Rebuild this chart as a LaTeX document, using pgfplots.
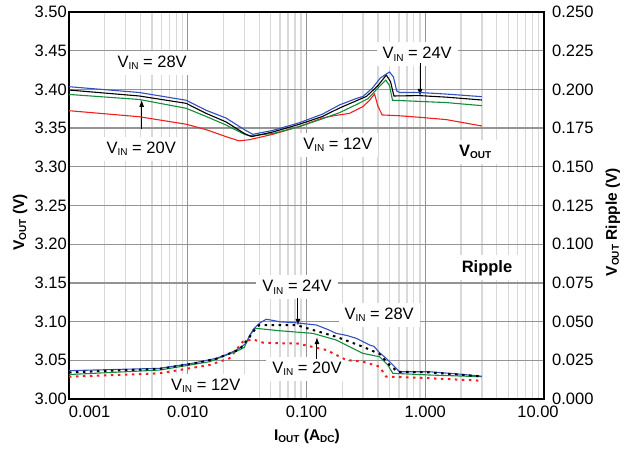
\documentclass[border=0pt]{standalone}
\usepackage{pgfplots}
\pgfplotsset{compat=1.18}
\usetikzlibrary{arrows.meta}
\usepackage{fontspec}
\setmainfont{Liberation Sans}
\newcommand{\tf}{\fontsize{16.5}{19}\selectfont}
\newcommand{\lf}{\fontsize{15.5}{18}\selectfont\bfseries}
\newcommand{\sub}[1]{\raisebox{-0.25ex}{\fontsize{10}{10}\selectfont #1}}
\definecolor{cblue}{RGB}{50,80,190}
\definecolor{cgreen}{RGB}{20,140,60}
\definecolor{cred}{RGB}{240,30,30}
\begin{document}
\begin{tikzpicture}
\useasboundingbox (0,0) rectangle (627pt,448pt);
\begin{axis}[
  at={(69pt,49pt)}, anchor=south west,
  scale only axis, width=475pt, height=387pt,
  xmode=log, xmin=0.001, xmax=10,
  ymin=3.0, ymax=3.5,
  xtick={0.001,0.01,0.1,1,10},
  xticklabels={\makebox[0pt][l]{0.001},0.010,0.100,1.000,\makebox[0pt]{\kern-12pt 10.00}},
  ytick={3,3.05,3.1,3.15,3.2,3.25,3.3,3.35,3.4,3.45,3.5},
  yticklabels={3.00,3.05,3.10,3.15,3.20,3.25,3.30,3.35,3.40,3.45,3.50},
  major tick length=0pt, minor tick length=0pt,
  xmajorgrids, xminorgrids, ymajorgrids,
  major grid style={color=black!42, line width=1.3pt},
  minor grid style={color=black!15, line width=1.4pt},
  axis line style={line width=1.2pt},
  xticklabel style={font=\tf, yshift=-3pt},
  yticklabel style={font=\tf, inner sep=0pt, xshift=-2pt},
  every axis x label/.style={at={(rel axis cs:0.501,-0.098)}, anchor=center},
  every axis y label/.style={at={(rel axis cs:-0.103,0.457)}, rotate=90, anchor=center},
  xlabel={\lf I\sub{OUT} (A\sub{DC})},
  ylabel={\lf V\sub{OUT} (V)},
  clip=false,
]
% annotations
\tikzset{lab/.style={fill=white, inner xsep=6pt, inner ysep=5pt, font=\tf, anchor=center}}
\node[lab] at (rel axis cs:0.175,0.868) {V\sub{IN} = 28V};
\node[lab] at (rel axis cs:0.152,0.646) {V\sub{IN} = 20V};
\node[lab] at (rel axis cs:0.566,0.656) {V\sub{IN} = 12V};
\node[lab] at (rel axis cs:0.733,0.891) {V\sub{IN} = 24V};
\node[lab, font=\tf\bfseries, inner xsep=14pt] at (rel axis cs:0.855,0.638) {V\sub{\bfseries OUT}};
\node[lab, font=\tf\bfseries, inner xsep=8pt] at (rel axis cs:0.88,0.339) {Ripple};
\node[lab] at (rel axis cs:0.48,0.289) {V\sub{IN} = 24V};
\node[lab] at (rel axis cs:0.653,0.217) {V\sub{IN} = 28V};
\node[lab] at (rel axis cs:0.501,0.078) {V\sub{IN} = 20V};
\node[lab] at (rel axis cs:0.288,0.034) {V\sub{IN} = 12V};
\draw[line width=1pt, -{Latex[length=7pt,width=5pt]}] (rel axis cs:0.153,0.698) -- (rel axis cs:0.153,0.773);
\draw[line width=1pt, -{Latex[length=7pt,width=5pt]}] (rel axis cs:0.739,0.868) -- (rel axis cs:0.739,0.783);
\draw[line width=1pt, -{Latex[length=7pt,width=5pt]}] (rel axis cs:0.482,0.261) -- (rel axis cs:0.482,0.189);
\draw[line width=1pt, -{Latex[length=7pt,width=5pt]}] (rel axis cs:0.522,0.103) -- (rel axis cs:0.522,0.160);
% VOUT curves
\addplot[cred, line width=1.1pt] coordinates {
(0.001,3.3725) (0.0039,3.3647) (0.0097,3.355) (0.0143,3.348) (0.021,3.339) (0.027,3.3335) (0.033,3.335)
(0.052,3.342) (0.087,3.352) (0.136,3.363) (0.17,3.366) (0.23,3.369) (0.30,3.378)
(0.34,3.386) (0.374,3.394) (0.40,3.378) (0.434,3.367) (0.6,3.366) (0.89,3.364) (1.5,3.361) (3.0,3.3527)};
\addplot[cgreen, line width=1.1pt] coordinates {
(0.001,3.3935) (0.0039,3.387) (0.0097,3.3756) (0.0143,3.365) (0.021,3.354) (0.030,3.342) (0.033,3.340)
(0.052,3.343) (0.0873,3.352) (0.136,3.362) (0.19,3.370) (0.26,3.380) (0.33,3.388)
(0.40,3.402) (0.465,3.412) (0.50,3.405) (0.53,3.386) (0.89,3.3845) (1.5,3.383) (3.0,3.379)};
\addplot[black, line width=1.1pt] coordinates {
(0.001,3.3992) (0.0039,3.3915) (0.0097,3.382) (0.0143,3.369) (0.021,3.358) (0.030,3.343) (0.0345,3.339)
(0.052,3.345) (0.0873,3.355) (0.136,3.365) (0.19,3.376) (0.26,3.385) (0.32,3.391)
(0.40,3.405) (0.47,3.4186) (0.51,3.410) (0.545,3.3915) (0.89,3.392) (1.5,3.390) (3.0,3.3863)};
\addplot[cblue, line width=1.1pt] coordinates {
(0.001,3.4035) (0.0039,3.396) (0.0097,3.386) (0.0143,3.373) (0.021,3.363) (0.030,3.348) (0.0353,3.342)
(0.052,3.347) (0.0873,3.357) (0.136,3.368) (0.19,3.380) (0.26,3.388) (0.30,3.391)
(0.36,3.402) (0.42,3.415) (0.50,3.4225) (0.54,3.416) (0.575,3.398) (0.61,3.396)
(0.89,3.396) (1.5,3.394) (3.0,3.3906)};
\end{axis}
\begin{axis}[
  at={(69pt,49pt)}, anchor=south west,
  scale only axis, width=475pt, height=387pt,
  xmode=log, xmin=0.001, xmax=10,
  ymin=0, ymax=0.25,
  axis y line*=right, axis x line=none,
  ytick={0,0.025,0.05,0.075,0.1,0.125,0.15,0.175,0.2,0.225,0.25},
  yticklabels={0.000,0.025,0.050,0.075,0.100,0.125,0.150,0.175,0.200,0.225,0.250},
  major tick length=0pt, minor tick length=0pt,
  axis line style={line width=1.2pt},
  yticklabel style={font=\tf, inner sep=0pt, xshift=8pt},
  every axis y label/.style={at={(rel axis cs:1.145,0.457)}, rotate=90, anchor=center},
  ylabel={\lf V\sub{\bfseries OUT} Ripple (V)},
  clip=false,
]
\addplot[cred, line width=2pt, dash pattern=on 2.5pt off 4.5pt] coordinates {
(0.001,0.0144) (0.0058,0.0166) (0.0153,0.022) (0.0225,0.0263) (0.0291,0.037) (0.0331,0.0381)
(0.0353,0.0386) (0.043,0.0364) (0.0592,0.036) (0.082,0.036) (0.1465,0.0317) (0.216,0.0252)
(0.298,0.0241) (0.412,0.0209) (0.469,0.0144) (1.086,0.0134) (3.0,0.0118)};
\addplot[cgreen, line width=1.1pt] coordinates {
(0.001,0.0158) (0.0058,0.0187) (0.0153,0.0241) (0.0273,0.0317) (0.030,0.0335) (0.0331,0.041)
(0.037,0.0457) (0.0592,0.0441) (0.113,0.0424) (0.178,0.0381) (0.298,0.0295) (0.412,0.0273)
(0.484,0.022) (0.533,0.0166) (1.086,0.0155) (3.0,0.0144)};
\addplot[cblue, line width=1.1pt] coordinates {
(0.001,0.0183) (0.0058,0.0198) (0.011,0.0231) (0.0174,0.0263) (0.0225,0.0295) (0.0273,0.0328)
(0.031,0.036) (0.0353,0.0446) (0.040,0.0489) (0.0458,0.0515) (0.052,0.0508) (0.0592,0.0499)
(0.082,0.0492) (0.121,0.0478) (0.15,0.045) (0.178,0.0424) (0.22,0.041) (0.262,0.0392)
(0.30,0.037) (0.339,0.0349) (0.37,0.034) (0.412,0.0299) (0.469,0.0263) (0.533,0.022)
(0.607,0.0176) (1.086,0.0176) (2.0,0.0160) (3.0,0.0147)};
\addplot[black, line width=2pt, dash pattern=on 2.5pt off 4.5pt] coordinates {
(0.001,0.0172) (0.0058,0.0195) (0.011,0.0228) (0.0174,0.026) (0.0273,0.032) (0.0331,0.040)
(0.0377,0.046) (0.0402,0.0478) (0.082,0.0478) (0.113,0.0446) (0.178,0.0402) (0.298,0.0338)
(0.412,0.0291) (0.50,0.022) (0.587,0.0176) (1.086,0.0172) (3.0,0.0146)};
\end{axis}
\end{tikzpicture}
\end{document}
